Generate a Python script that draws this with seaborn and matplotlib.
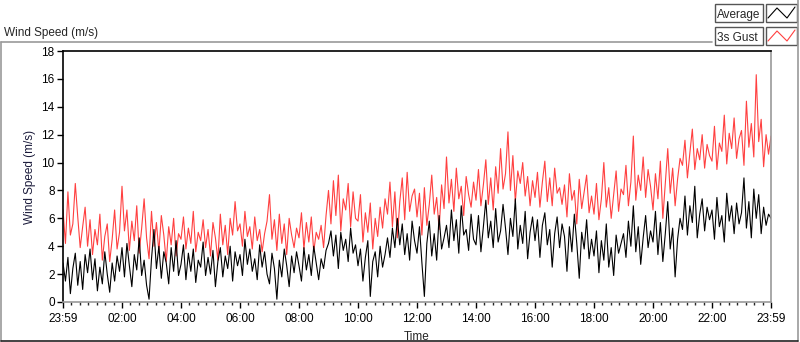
import numpy as np
import pandas as pd
import seaborn as sns
import matplotlib.pyplot as plt
from matplotlib.lines import Line2D
from matplotlib.patches import Rectangle
from matplotlib.ticker import MultipleLocator

# Wind speed samples, 5 minute steps from 23:59 to 23:59 (one row per hour)
average = [
    2.8, 1.5, 3.2, 0.6, 2.4, 3.5, 1.2, 2.9, 0.9, 3.4, 2.1, 3.8,
    1.6, 3.1, 0.8, 2.5, 1.3, 3.6, 2.0, 0.7, 2.8, 1.5, 3.3, 2.2,
    3.9, 1.8, 4.2, 2.6, 1.1, 3.4, 2.3, 4.6, 1.9, 3.0, 1.2, 0.2,
    3.1, 5.2, 2.4, 4.0, 1.7, 3.6, 2.8, 1.3, 3.9, 2.2, 4.4, 1.9,
    2.7, 4.1, 1.6, 3.5, 2.2, 3.8, 1.4, 3.0, 2.5, 4.3, 1.9, 3.2,
    2.0, 3.7, 1.1, 2.9, 3.9, 1.8, 3.3, 2.4, 4.0, 1.5, 3.6, 2.6,
    3.4, 1.9, 4.5, 2.7, 3.8, 2.2, 3.1, 1.6, 4.1, 2.5, 3.6, 2.0,
    1.3, 3.5, 2.4, 0.2, 3.0, 1.8, 3.8, 2.6, 1.1, 3.3, 2.1, 3.6,
    2.6, 1.5, 3.9, 2.3, 3.4, 1.9, 4.0, 2.8, 1.6, 3.1, 2.4, 3.7,
    4.2, 5.1, 3.3, 4.8, 2.4, 5.0, 3.7, 4.5, 2.9, 5.3, 3.5, 4.1,
    2.6, 3.8, 1.5, 3.2, 4.4, 0.4, 2.9, 3.6, 1.8, 4.0, 2.5, 3.4,
    4.6, 3.2, 5.3, 3.9, 6.0, 4.1, 5.6, 3.4, 4.9, 3.0, 5.8, 4.4,
    3.5, 5.4, 2.8, 0.4, 4.2, 5.8, 3.3, 4.9, 3.0, 6.2, 3.8, 4.6,
    5.5, 3.9, 6.6, 4.4, 5.9, 3.5, 6.9, 4.8, 5.2, 3.7, 6.3, 4.5,
    4.1, 6.2, 3.6, 5.4, 7.3, 4.6, 5.8, 3.9, 6.7, 4.3, 5.1, 7.0,
    5.3, 3.4, 6.0, 4.7, 7.4, 3.8, 5.5, 4.2, 6.5, 3.1, 5.0, 6.1,
    4.4, 5.9, 3.2, 5.5, 6.4, 4.1, 5.2, 2.5, 4.9, 6.1, 3.9, 5.6,
    4.7, 2.2, 5.4, 3.6, 6.3, 4.2, 1.7, 5.0, 3.8, 5.9, 3.1, 4.5,
    3.3, 5.1, 2.1, 4.4, 3.0, 5.6, 2.5, 3.9, 1.9, 4.8, 3.5, 4.2,
    4.9, 3.2, 5.8, 4.0, 6.9, 3.6, 5.4, 2.7, 4.6, 6.2, 3.9, 5.1,
    4.3, 6.5, 3.4, 5.7, 2.9, 4.9, 7.2, 3.8, 5.3, 1.8, 4.5, 6.0,
    5.2, 7.6, 4.8, 6.9, 5.7, 8.3, 4.6, 6.3, 7.4, 5.1, 6.8, 5.9,
    6.6, 4.5, 7.5, 5.4, 6.2, 4.3, 7.8, 5.8, 6.9, 4.9, 7.1, 5.6,
    6.4, 8.9, 5.3, 7.2, 4.6, 8.1, 6.0, 7.7, 4.9, 6.8, 5.5, 6.3,
    6.0,
]
gust = [
    6.6, 4.2, 7.9, 4.8, 5.6, 8.5, 6.1, 3.9, 5.4, 6.8, 4.0, 5.9,
    3.4, 5.2, 4.1, 6.3, 3.0, 4.7, 5.6, 2.9, 4.5, 6.6, 3.8, 5.0,
    8.3, 5.1, 6.6, 3.7, 5.8, 4.4, 6.9, 3.5, 5.3, 7.4, 4.6, 3.1,
    6.5, 4.0, 5.7, 3.6, 6.2, 4.8, 2.9, 5.4, 4.1, 6.0, 3.3, 4.9,
    4.5, 6.1, 3.8, 5.3, 4.2, 6.5, 3.6, 5.0, 4.4, 5.9, 3.9, 5.2,
    3.3, 5.7, 4.6, 3.0, 6.3, 4.1, 5.5, 3.4, 6.0, 4.8, 7.2, 5.1,
    5.6, 4.0, 6.5, 4.7, 5.4, 3.8, 6.1, 4.4, 5.2, 3.6, 4.9, 5.8,
    7.7, 4.5, 5.9, 3.7, 6.3, 4.2, 5.6, 3.4, 6.0, 4.8, 3.9, 5.3,
    4.6, 6.4, 3.8, 5.7, 4.3, 6.1, 3.6, 5.0, 4.5, 5.5, 3.9, 6.2,
    8.0, 5.6, 8.7, 6.2, 9.1, 5.1, 7.4, 6.6, 8.5, 5.4, 7.9, 6.0,
    5.8, 7.7, 4.3, 6.4, 5.0, 7.1, 3.8, 6.0, 4.7, 6.8, 5.3, 7.4,
    6.3, 8.6, 5.4, 7.9, 4.6, 7.2, 8.9, 5.9, 9.3, 6.5, 7.6, 8.1,
    6.1, 7.8, 4.8, 8.2, 5.5, 7.0, 9.1, 6.3, 7.5, 5.2, 8.4, 6.7,
    10.4, 7.1, 8.8, 6.5, 9.6, 7.4, 8.3, 6.2, 9.0, 7.7, 6.8, 8.6,
    7.3, 9.5, 6.9, 8.4, 10.2, 7.0, 8.9, 6.6, 9.7, 7.8, 11.0, 8.1,
    9.2, 12.2, 8.0, 10.5, 7.2, 9.4, 8.5, 10.0, 7.6, 9.0, 6.9, 8.7,
    7.5, 9.3, 6.8, 8.6, 10.1, 7.2, 8.9, 6.9, 9.6, 7.8, 8.2, 7.0,
    8.4, 6.1, 9.2, 7.3, 8.0, 5.6, 8.8, 6.7, 7.9, 9.1, 6.4, 7.6,
    6.3, 8.5, 5.9, 7.4, 10.0, 6.8, 8.2, 6.0, 7.7, 9.4, 6.5, 8.1,
    7.7, 9.8, 6.9, 8.6, 11.9, 7.3, 9.1, 8.0, 10.4, 7.5, 9.5, 8.3,
    6.6, 9.2, 7.4, 10.1, 6.0, 8.5, 11.0, 7.8, 9.6, 6.9, 8.8, 10.3,
    9.8, 11.6, 8.9, 10.7, 12.4, 9.5, 11.0, 10.2, 12.0, 9.6, 11.3, 10.5,
    10.1, 12.6, 9.5, 11.4, 10.8, 13.4, 9.9, 12.1, 11.0, 13.2, 10.3, 11.7,
    12.3, 9.8, 14.4, 11.1, 12.8, 10.4, 16.3, 11.5, 13.1, 9.7, 12.0, 10.6,
    11.9,
]
tick_labels = ["23:59", "02:00", "04:00", "06:00", "08:00", "10:00", "12:00",
               "14:00", "16:00", "18:00", "20:00", "22:00", "23:59"]

hours = np.arange(len(average)) / 12.0
df = pd.DataFrame({"hours": hours, "Average": average, "3s Gust": gust})

sns.set_style("white")
plt.rcParams["font.family"] = ["Liberation Sans", "DejaVu Sans"]

W, H = 800, 342
fig = plt.figure(figsize=(8, 3.42), dpi=100)

def fx(x):
    return x / W

def fy(y):
    return 1 - y / H

ax = fig.add_axes([fx(63), fy(302), (771 - 63) / W, (302 - 51) / H])

sns.lineplot(data=df, x="hours", y="3s Gust", ax=ax, color="#ff4040", lw=0.8)
sns.lineplot(data=df, x="hours", y="Average", ax=ax, color="black", lw=0.8)

ax.set_xlim(0, 24)
ax.set_ylim(0, 18)
ax.set_yticks(range(0, 19, 2))
ax.set_xticks(range(0, 25, 2))
ax.set_xticklabels(tick_labels)
ax.xaxis.set_minor_locator(MultipleLocator(2 / 7))
ax.tick_params(axis="both", which="major", direction="out", length=4, width=1,
               labelsize=8.5, colors="black", bottom=True, left=True)
ax.tick_params(axis="x", which="minor", direction="out", length=2.5, width=1,
               bottom=True)
ax.tick_params(axis="x", pad=4)
ax.tick_params(axis="y", pad=2)
ax.set_xlabel("Time", fontsize=8.5, loc="center", labelpad=4)
ax.set_ylabel("Wind Speed (m/s)", fontsize=8.5, color="#1a1a3a", labelpad=4)

for side in ["left", "top"]:
    ax.spines[side].set_color("black")
    ax.spines[side].set_linewidth(1.2)
for side in ["right", "bottom"]:
    ax.spines[side].set_color("#9a9a9a")
    ax.spines[side].set_linewidth(1.2)

# outer frame of the chart control
frame = [
    Line2D([fx(1), fx(1)], [fy(42), fy(341)], color="#9a9a9a", lw=1.2),
    Line2D([fx(1), fx(712)], [fy(42), fy(42)], color="#9a9a9a", lw=1.2),
    Line2D([fx(798), fx(798)], [fy(0), fy(341)], color="#9a9a9a", lw=1.2),
    Line2D([fx(1), fx(798)], [fy(341), fy(341)], color="#222222", lw=1.2),
]
for ln in frame:
    fig.add_artist(ln)

fig.text(fx(4), fy(36), "Wind Speed (m/s)", fontsize=8.5, ha="left", va="baseline")

# legend drawn as in the original control
legend_rows = [("Average", "black", 4), ("3s Gust", "#ff4040", 27)]
for name, color, top in legend_rows:
    fig.add_artist(Rectangle((fx(715), fy(top + 18)), 48 / W, 18 / H,
                             facecolor="white", edgecolor="#555555", lw=1))
    fig.add_artist(Rectangle((fx(766), fy(top + 18)), 31 / W, 18 / H,
                             facecolor="white", edgecolor="#555555", lw=1))
    fig.text(fx(717), fy(top + 14), name, fontsize=8.5, ha="left", va="baseline")
    zig_x = [768, 777, 787, 795]
    zig_y = [top + 14, top + 4, top + 14, top + 3]
    fig.add_artist(Line2D([fx(v) for v in zig_x], [fy(v) for v in zig_y],
                          color=color, lw=0.8))

plt.savefig("out.png", dpi=100)
plt.close()
